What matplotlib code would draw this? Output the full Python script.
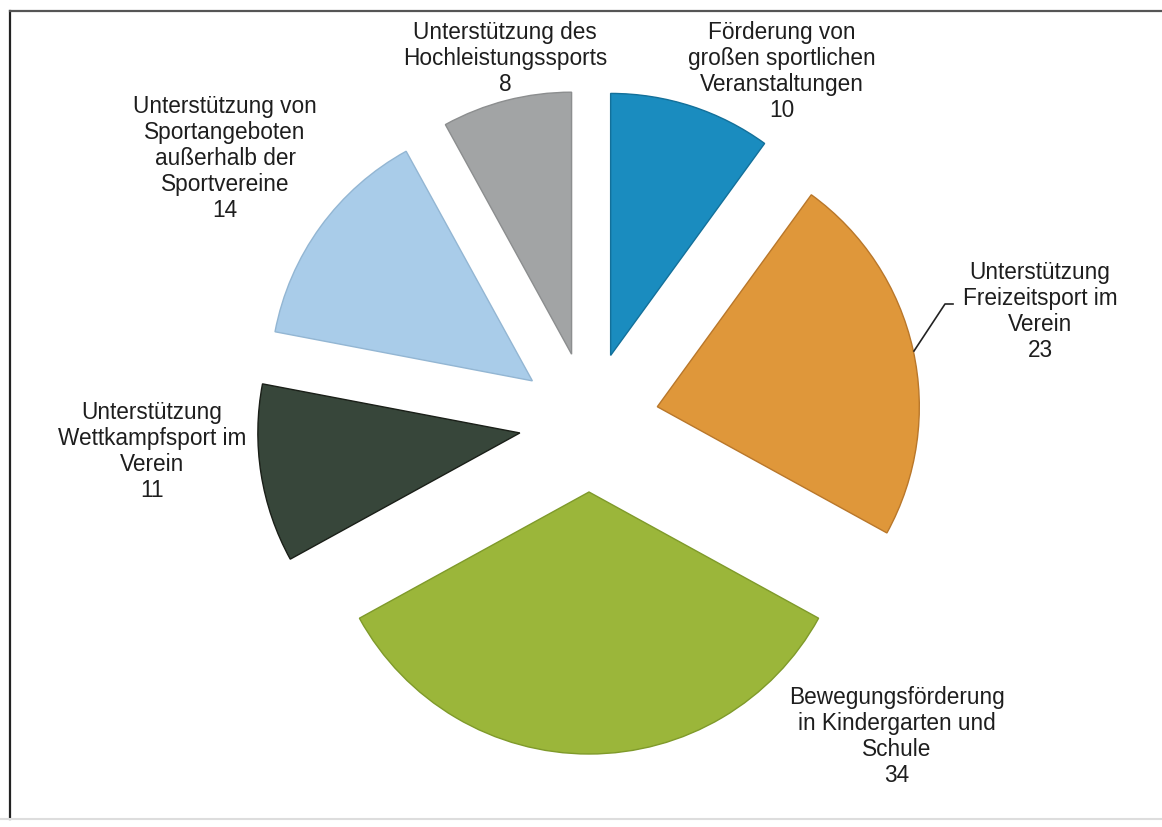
import matplotlib
matplotlib.use("Agg")
import matplotlib.pyplot as plt
from matplotlib.lines import Line2D

# Slice order: clockwise from 12 o'clock
categories = [
    "Förderung von\ngroßen sportlichen\nVeranstaltungen",
    "Unterstützung\nFreizeitsport im\nVerein",
    "Bewegungsförderung\nin Kindergarten und\nSchule",
    "Unterstützung\nWettkampfsport im\nVerein",
    "Unterstützung von\nSportangeboten\naußerhalb der\nSportvereine",
    "Unterstützung des\nHochleistungssports",
]
values = [10, 23, 34, 11, 14, 8]

colors = ["#1a8cbf", "#df973a", "#9bb63a", "#37463a", "#a9cce9", "#a2a4a5"]
edges = ["#13709a", "#b9772a", "#7f9a2a", "#1a1f18", "#93b6d3", "#8c8e8f"]

W, H = 1162, 828
fig = plt.figure(figsize=(W / 100, H / 100), dpi=100)
ax = fig.add_axes([0, 0, 1, 1])

radius = 262
gap = 70  # offset of every slice from the common centre, in pixels
center = (589, H - 423)
wedges, _ = ax.pie(
    values,
    explode=[gap] * len(values),
    startangle=90,
    counterclock=False,
    colors=colors,
    radius=radius,
    center=center,
    wedgeprops=dict(linewidth=1.0),
    frame=True,
)
for w, ec in zip(wedges, edges):
    w.set_edgecolor(ec)
ax.set_xlim(0, W)
ax.set_ylim(0, H)
ax.set_aspect("equal")
ax.axis("off")

# label anchor points (top-centre of each text block, in pixels from the top-left)
label_pos = [(782, 21), (1040, 261), (897, 686), (152, 401), (225, 95), (505, 21)]
for text, v, (x, y) in zip(categories, values, label_pos):
    ax.text(x, H - y, f"{text}\n{v}", ha="center", va="top",
            fontsize=16.3, family="Liberation Sans", color="#1e1e1e",
            linespacing=1.16)

# leader line for the "Freizeitsport" label
ax.add_line(Line2D([914, 945, 953], [H - 352, H - 305, H - 305],
                   color="#222222", lw=1.2))

# frame around the chart area
fig.add_artist(Line2D([10 / W, 10 / W], [0.01, 1 - 12 / H], color="#222222", lw=1.6,
                      transform=fig.transFigure))
fig.add_artist(Line2D([10 / W, 1], [1 - 12 / H, 1 - 12 / H], color="#555555", lw=1.6,
                      transform=fig.transFigure))
fig.add_artist(Line2D([0, 1], [8 / H, 8 / H], color="#dddddd", lw=1.5,
                      transform=fig.transFigure))

fig.savefig("out.png", dpi=100, facecolor="white")
